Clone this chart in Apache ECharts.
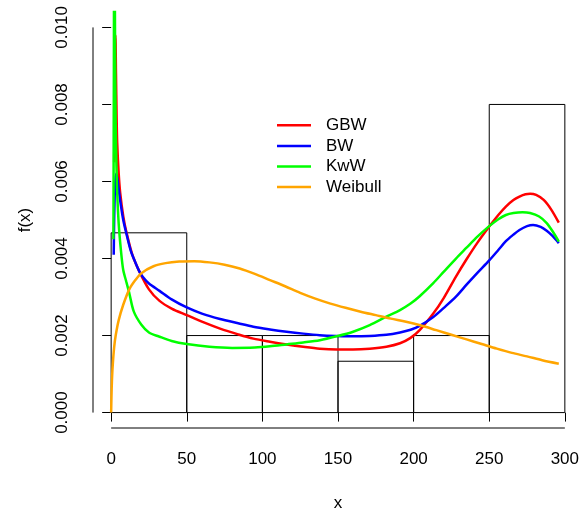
<!DOCTYPE html>
<html>
<head>
<meta charset="utf-8">
<script src="https://cdn.jsdelivr.net/npm/echarts@6/dist/echarts.min.js"></script>
<style>
  html, body { margin: 0; padding: 0; background: #fff; }
  #chart { width: 579px; height: 510px; }
</style>
</head>
<body>
<div id="chart"></div>
<script>
// histogram: bin start, bin end, density
const binStart = [0, 50, 100, 150, 200, 250];
const binEnd = [50, 100, 150, 200, 250, 300];
const binDensity = [0.004667, 0.002, 0.002, 0.001333, 0.002, 0.008];

// fitted densities
const gbwX = [2.0, 2.4, 2.8, 3.2, 3.6, 4, 5, 6, 8, 10, 14, 18.7, 25, 32, 40, 50, 60, 72, 84, 94, 105, 116, 127, 138, 149, 160, 171, 182, 191, 198, 204, 213, 220, 228, 235, 242, 250, 256, 261, 266, 270, 274, 277, 281, 286, 291, 296];
const gbwY = [0.0065, 0.0092, 0.0098, 0.0088, 0.0077, 0.0070, 0.0062, 0.0057, 0.0051, 0.0047, 0.0041, 0.00366, 0.0032, 0.0029, 0.0027, 0.00253, 0.00236, 0.00218, 0.00203, 0.00192, 0.00184, 0.00177, 0.00171, 0.00166, 0.00164, 0.00164, 0.00166, 0.00171, 0.0018, 0.00194, 0.00214, 0.00257, 0.00298, 0.00353, 0.00398, 0.0044, 0.00483, 0.00513, 0.00535, 0.00552, 0.00561, 0.00567, 0.00568, 0.00565, 0.00552, 0.00527, 0.00493];

const bwX = [1.7, 2.0, 2.5, 3.2, 4, 5, 6, 8, 10, 13, 16, 18.7, 21, 25, 32, 40, 50, 60, 72, 84, 94, 105, 116, 127, 138, 149, 160, 171, 182, 191, 198, 204, 213, 220, 228, 235, 242, 250, 256, 261, 266, 270, 275, 279, 284, 288, 292, 296];
const bwY = [0.0041, 0.0050, 0.0058, 0.0062, 0.0061, 0.0058, 0.0055, 0.0050, 0.00466, 0.0042, 0.0039, 0.00366, 0.00352, 0.00335, 0.00316, 0.00294, 0.00273, 0.00257, 0.00243, 0.00232, 0.00223, 0.00216, 0.0021, 0.00205, 0.00201, 0.00199, 0.00198, 0.00199, 0.00202, 0.00208, 0.00215, 0.00225, 0.00248, 0.00272, 0.00301, 0.00332, 0.00362, 0.00395, 0.00422, 0.00445, 0.00462, 0.00474, 0.00484, 0.00487, 0.00482, 0.00472, 0.00458, 0.0044];

const kwwX = [1.5, 1.8, 2.0, 2.3, 2.6, 3, 3.5, 4, 5, 6.5, 8, 10, 12, 15, 20, 25, 32, 40, 50, 65, 80, 95, 105, 116, 127, 138, 149, 160, 171, 182, 191, 198, 204, 213, 220, 228, 235, 242, 250, 256, 261, 266, 272, 277, 283, 288, 292, 296];
const kwwY = [0.0045, 0.0090, 0.0125, 0.0120, 0.0095, 0.0075, 0.0064, 0.0057, 0.0049, 0.0042, 0.0037, 0.0034, 0.0031, 0.00262, 0.00228, 0.00208, 0.00197, 0.00186, 0.00178, 0.00171, 0.00168, 0.00169, 0.00172, 0.00177, 0.00182, 0.00188, 0.00198, 0.0021, 0.00227, 0.00249, 0.00266, 0.00283, 0.00302, 0.00336, 0.00366, 0.004, 0.00428, 0.00456, 0.00484, 0.00502, 0.00513, 0.00518, 0.0052, 0.00518, 0.00509, 0.00492, 0.0047, 0.00444];

const weibullX = [0, 0.2, 0.5, 1, 2, 3, 5, 8, 12, 16, 20, 28, 36, 45, 55, 65, 75, 85, 95, 105, 115, 125, 135, 145, 155, 165, 175, 185, 195, 205, 215, 225, 235, 245, 255, 265, 275, 285, 296];
const weibullY = [0, 0.0004, 0.0008, 0.0012, 0.0017, 0.0020, 0.0024, 0.0028, 0.0032, 0.00344, 0.00362, 0.0038, 0.00388, 0.00392, 0.00393, 0.0039, 0.00384, 0.00374, 0.0036, 0.00344, 0.00328, 0.00311, 0.00296, 0.00283, 0.00272, 0.00262, 0.00253, 0.00244, 0.00236, 0.00226, 0.00214, 0.00202, 0.0019, 0.00178, 0.00166, 0.00155, 0.00146, 0.00136, 0.00127];

// axis ticks
const xTicks = [0, 50, 100, 150, 200, 250, 300];
const yTicks = [0, 0.002, 0.004, 0.006, 0.008, 0.01];

// R pads the axis range by 4% each side
const xMin = -12, xMax = 312;
const yMin = -0.0004, yMax = 0.0104;

const font = 'Liberation Sans, Arial, sans-serif';
const zip = (xs, ys) => xs.map((x, i) => [x, ys[i]]);

function curve(name, color, xs, ys) {
  return {
    name: name,
    type: 'line',
    data: zip(xs, ys),
    showSymbol: false,
    symbol: 'none',
    smooth: 0.3,
    color: color,
    lineStyle: { color: color, width: 2.5 },
    z: 3
  };
}

const chart = echarts.init(document.getElementById('chart'), null, { renderer: 'canvas' });

const option = {
  animation: false,
  backgroundColor: '#fff',
  textStyle: { fontFamily: font },
  grid: { left: 93, top: 12, width: 490, height: 416, containLabel: false, outerBoundsMode: 'none' },
  legend: {
    orient: 'vertical',
    left: 277,
    top: 115,
    padding: 0,
    icon: 'rect',
    itemWidth: 34,
    itemHeight: 2.5,
    itemGap: 0,
    textStyle: { fontSize: 17, color: '#000', fontFamily: font, lineHeight: 20.6, padding: [0, 0, 0, 10] },
    data: ['GBW', 'BW', 'KwW', 'Weibull']
  },
  xAxis: {
    type: 'value',
    min: xMin,
    max: xMax,
    name: 'x',
    nameLocation: 'middle',
    nameGap: 67,
    nameTextStyle: { fontSize: 17, color: '#000', fontFamily: font },
    axisLine: { show: false },
    splitLine: { show: false },
    axisTick: { show: true, length: 9, customValues: xTicks, lineStyle: { color: '#000', width: 1 } },
    axisLabel: { customValues: xTicks, margin: 23, fontSize: 17, color: '#000', fontFamily: font }
  },
  yAxis: {
    type: 'value',
    min: yMin,
    max: yMax,
    name: 'f(x)',
    nameLocation: 'middle',
    nameGap: 59,
    nameRotate: 90,
    nameTextStyle: { fontSize: 17, color: '#000', fontFamily: font },
    axisLine: { show: false },
    splitLine: { show: false },
    axisTick: { show: true, length: 9, customValues: yTicks, lineStyle: { color: '#000', width: 1 } },
    axisLabel: {
      customValues: yTicks,
      rotate: 90,
      margin: 22,
      fontSize: 17,
      color: '#000',
      fontFamily: font,
      formatter: v => v.toFixed(3)
    }
  },
  series: [
    {
      name: 'hist',
      type: 'custom',
      data: binStart.map((s, i) => [s, binEnd[i], binDensity[i]]),
      encode: { x: [0, 1], y: 2 },
      renderItem: (params, api) => {
        const p0 = api.coord([api.value(0), 0]);
        const p1 = api.coord([api.value(1), api.value(2)]);
        return {
          type: 'rect',
          shape: { x: p0[0], y: p1[1], width: p1[0] - p0[0], height: p0[1] - p1[1] },
          style: { fill: 'none', stroke: '#000', lineWidth: 1 }
        };
      },
      z: 2
    },
    // R style axis lines, only as long as the tick range
    {
      name: 'xline',
      type: 'line',
      data: [[xTicks[0], yMin], [xTicks[xTicks.length - 1], yMin]],
      symbol: 'none',
      clip: false,
      lineStyle: { color: '#000', width: 1 },
      silent: true
    },
    {
      name: 'yline',
      type: 'line',
      data: [[xMin, yTicks[0]], [xMin, yTicks[yTicks.length - 1]]],
      symbol: 'none',
      clip: false,
      lineStyle: { color: '#000', width: 1 },
      silent: true
    },
    curve('GBW', '#ff0000', gbwX, gbwY),
    curve('BW', '#0000ff', bwX, bwY),
    curve('KwW', '#00ff00', kwwX, kwwY),
    curve('Weibull', '#ffa500', weibullX, weibullY)
  ]
};

chart.setOption(option);
</script>
</body>
</html>
